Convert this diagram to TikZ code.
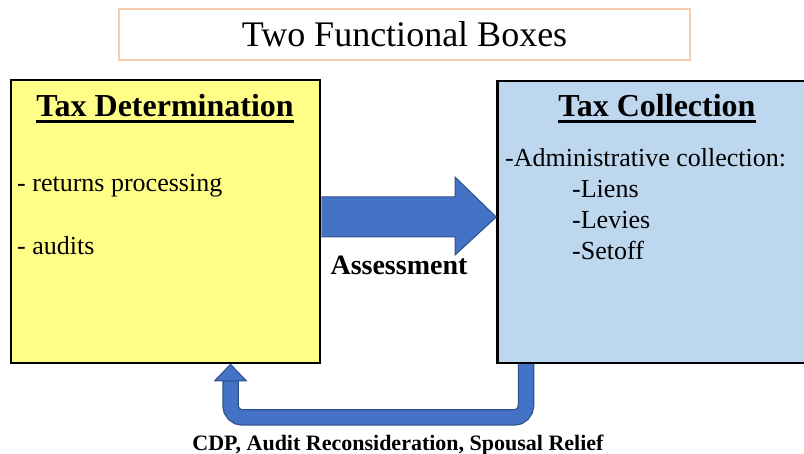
\documentclass[tikz,border=0pt]{standalone}
\usepackage{fontspec}
\setmainfont{Liberation Serif}
\usetikzlibrary{calc}
\definecolor{peach}{HTML}{F8CBAD}
\definecolor{detyellow}{HTML}{FFFF88}
\definecolor{colblue}{HTML}{BDD7EE}
\definecolor{arrowblue}{HTML}{4472C4}
\definecolor{arrowedge}{HTML}{2F528F}
\tikzset{
  fbox/.style={draw=black, line width=2.5pt, inner sep=0pt},
  hdr/.style={inner sep=0pt, anchor=base, font=\fontsize{32}{36}\selectfont\bfseries},
  item/.style={inner sep=0pt, anchor=base west, font=\fontsize{26}{30}\selectfont},
  ulbar/.style={line width=2.4pt},
  fatarrow/.style={fill=arrowblue, draw=arrowedge, line width=1pt, line join=miter},
}
\begin{document}
\begin{tikzpicture}[x=1pt,y=-1pt]
\useasboundingbox (0,0) rectangle (804,454);
% title
\node[draw=peach, line width=1.3pt, minimum width=571pt, minimum height=51pt, inner sep=0pt,
      font=\fontsize{36}{40}\selectfont] (title) at (404.5,34.5) {Two Functional Boxes};
% boxes
\node[fbox, fill=detyellow, minimum width=309pt, minimum height=283pt] (det) at (165.5,221.5) {};
\node[fbox, fill=colblue, minimum width=318pt, minimum height=282pt] (col) at (656.5,222) {};
% left box text
\node[hdr] (hdet) at (165,117) {Tax Determination};
\draw[ulbar] ([yshift=-4.5pt]hdet.base west) -- ([yshift=-4.5pt]hdet.base east);
\node[item] (ret) at (17,192) {- returns processing};
\node[item] (aud) at (17,255) {- audits};
% right box text
\node[hdr] (hcol) at (657,117) {Tax Collection};
\draw[ulbar] ([yshift=-4.5pt]hcol.base west) -- ([yshift=-4.5pt]hcol.base east);
\node[item] (adm) at (505,167) {-Administrative collection:};
\node[item] (lie) at (572,198) {-Liens};
\node[item] (lev) at (572,229) {-Levies};
\node[item] (set) at (572,260) {-Setoff};
% main arrow
\fill[arrowblue] ($(det.east)+(0,-24.5)$) -- (455,197) -- (455,177) -- ($(col.west)+(0,-5)$)
  -- (455,255) -- (455,237) -- ($(det.east)+(0,15.5)$) -- cycle;
\draw[arrowedge, line width=1pt, line join=miter] ($(det.east)+(0,-24.5)$) -- (455,197) -- (455,177) -- ($(col.west)+(0,-5)$)
  -- (455,255) -- (455,237) -- ($(det.east)+(0,15.5)$);
\node[inner sep=0pt, anchor=base, font=\fontsize{28}{32}\selectfont\bfseries] (assess) at (399,275) {Assessment};
% return arrow
\coordinate (ur) at (526,0);
\coordinate (ul) at (230.5,0);
\draw[arrowedge, line width=16.5pt, rounded corners=12pt] (col.south -| ur) -- (526,417.5) -- (230.5,417.5) -- (230.5,381);
\draw[arrowblue, line width=14pt, rounded corners=12pt] (col.south -| ur) -- (526,417.5) -- (230.5,417.5) -- (230.5,381.5);
\filldraw[fatarrow] (214.5,381) -- (246.5,381) -- (det.south -| ul) -- cycle;
\node[inner sep=0pt, anchor=base, font=\fontsize{22}{26}\selectfont\bfseries] (relief) at (398,450) {CDP, Audit Reconsideration, Spousal Relief};
\end{tikzpicture}
\end{document}
